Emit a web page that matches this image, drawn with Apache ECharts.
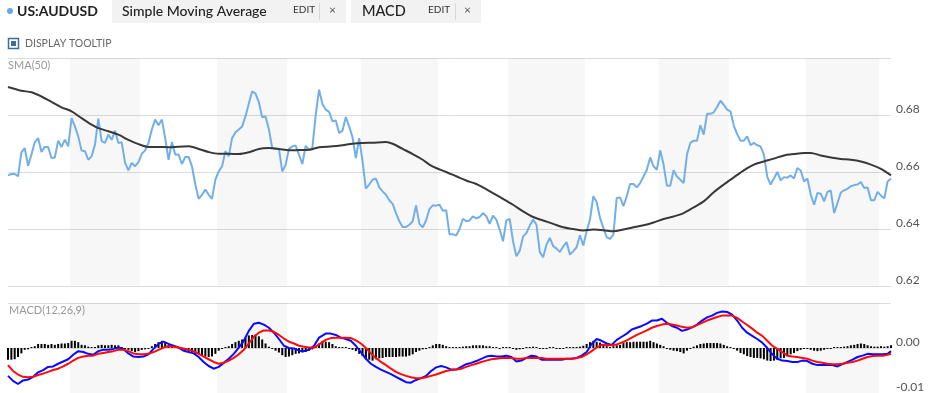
<!DOCTYPE html>
<html><head><meta charset="utf-8">
<script src="https://cdn.jsdelivr.net/npm/echarts@6/dist/echarts.min.js"></script>
<style>html,body{margin:0;padding:0;background:#fff}#c{width:948px;height:393px}</style>
</head><body><div id="c"></div>
<script>
// Daily closes US:AUDUSD (index = trading day)
const price = [
0.6588,0.6593,0.6593,0.6585,0.6669,0.6684,0.6622,0.6661,0.6704,0.6719,
0.6670,0.6688,0.6688,0.6649,0.6651,0.6710,0.6688,0.6713,0.6690,0.6789,
0.6760,0.6725,0.6675,0.6673,0.6643,0.6655,0.6696,0.6787,0.6708,0.6702,
0.6731,0.6713,0.6745,0.6702,0.6704,0.6632,0.6606,0.6632,0.6620,0.6635,
0.6664,0.6676,0.6702,0.6749,0.6784,0.6764,0.6784,0.6719,0.6643,0.6705,
0.6661,0.6661,0.6628,0.6653,0.6653,0.6620,0.6556,0.6506,0.6520,0.6538,
0.6520,0.6506,0.6573,0.6602,0.6620,0.6673,0.6655,0.6719,0.6739,0.6749,
0.6760,0.6795,0.6840,0.6883,0.6875,0.6845,0.6792,0.6795,0.6750,0.6684,
0.6681,0.6681,0.6602,0.6625,0.6681,0.6690,0.6693,0.6660,0.6628,0.6692,
0.6678,0.6685,0.6800,0.6889,0.6839,0.6819,0.6811,0.6778,0.6781,0.6737,
0.6745,0.6793,0.6760,0.6722,0.6649,0.6719,0.6637,0.6542,0.6556,0.6573,
0.6577,0.6546,0.6532,0.6520,0.6501,0.6488,0.6456,0.6427,0.6407,0.6407,
0.6415,0.6427,0.6483,0.6418,0.6406,0.6430,0.6470,0.6483,0.6482,0.6485,
0.6464,0.6466,0.6382,0.6382,0.6377,0.6400,0.6436,0.6427,0.6430,0.6444,
0.6437,0.6442,0.6456,0.6445,0.6418,0.6447,0.6433,0.6398,0.6357,0.6430,
0.6435,0.6357,0.6304,0.6324,0.6374,0.6386,0.6412,0.6433,0.6415,0.6319,
0.6301,0.6346,0.6369,0.6340,0.6331,0.6319,0.6339,0.6354,0.6310,0.6322,
0.6336,0.6378,0.6342,0.6392,0.6433,0.6515,0.6495,0.6439,0.6404,0.6371,
0.6365,0.6380,0.6509,0.6511,0.6480,0.6515,0.6558,0.6558,0.6546,0.6561,
0.6584,0.6608,0.6651,0.6620,0.6608,0.6676,0.6626,0.6552,0.6552,0.6606,
0.6584,0.6573,0.6561,0.6661,0.6702,0.6710,0.6710,0.6764,0.6731,0.6804,
0.6804,0.6809,0.6828,0.6850,0.6836,0.6819,0.6813,0.6763,0.6733,0.6710,
0.6710,0.6725,0.6694,0.6702,0.6694,0.6690,0.6661,0.6584,0.6556,0.6577,
0.6600,0.6571,0.6582,0.6580,0.6588,0.6577,0.6614,0.6605,0.6567,0.6577,
0.6521,0.6485,0.6526,0.6524,0.6497,0.6530,0.6535,0.6456,0.6491,0.6528,
0.6536,0.6541,0.6550,0.6554,0.6556,0.6565,0.6544,0.6546,0.6501,0.6501,
0.6530,0.6517,0.6507,0.6567,0.6577
];
// SMA(50) read at [day index, value]
const sma50 = [
[0,0.6898],[4,0.6885],[7,0.6880],[10,0.6865],[13,0.6846],[16,0.6827],[19,0.6813],[22,0.6789],[25,0.6766],[27,0.6754],
[30,0.6743],[33,0.6731],[36,0.6713],[39,0.6698],[42,0.6688],[45,0.6688],[48,0.6687],[51,0.6689],[54,0.6690],[57,0.6681],
[60,0.6670],[63,0.6664],[66,0.6664],[69,0.6663],[72,0.6669],[75,0.6681],[78,0.6684],[81,0.6681],[84,0.6676],[87,0.6677],
[90,0.6678],[93,0.6687],[97,0.6690],[100,0.6694],[103,0.6699],[106,0.6702],[109,0.6703],[113,0.6705],[115,0.6699],[118,0.6681],
[121,0.6663],[124,0.6643],[126,0.6626],[128,0.6614],[131,0.6600],[134,0.6585],[137,0.6570],[140,0.6558],[142,0.6546],[145,0.6526],
[148,0.6506],[151,0.6485],[154,0.6462],[157,0.6442],[160,0.6430],[163,0.6418],[166,0.6406],[169,0.6400],[172,0.6395],[175,0.6398],
[178,0.6396],[181,0.6392],[184,0.6398],[187,0.6406],[190,0.6413],[193,0.6423],[196,0.6435],[199,0.6444],[202,0.6456],[205,0.6476],
[208,0.6497],[211,0.6529],[214,0.6556],[217,0.6581],[220,0.6606],[223,0.6626],[226,0.6637],[229,0.6647],[232,0.6658],[235,0.6663],
[238,0.6667],[240,0.6667],[243,0.6658],[246,0.6651],[249,0.6646],[252,0.6643],[255,0.6637],[258,0.6626],[261,0.6611],[264,0.6588]
];
// MACD(12,26,9) line read at [day index, value]
const macdLine = [
[0,-0.0062],[1.5,-0.0073],[3,-0.0080],[4.5,-0.0072],[6,-0.0070],[7.5,-0.0064],[9,-0.0054],[10.5,-0.0049],[12,-0.0042],[13.5,-0.0041],
[15,-0.0035],[16.5,-0.0030],[18,-0.0025],[19.5,-0.0015],[21,-0.0007],[22.5,-0.0009],[24,-0.0013],[25.5,-0.0015],[27,-0.0007],[28.5,-0.0004],
[30,-0.0004],[31.5,-0.0002],[33,0.0001],[34.5,-0.0002],[36,-0.0012],[37.5,-0.0019],[39,-0.0020],[40.5,-0.0019],[42,-0.0014],[43.5,-0.0002],
[45,0.0009],[46.5,0.0014],[48,0.0009],[49.5,0.0005],[51,0.0001],[52.5,-0.0006],[54,-0.0009],[55.5,-0.0012],[57,-0.0020],[58.5,-0.0031],
[60,-0.0040],[61.5,-0.0046],[63,-0.0042],[64.5,-0.0033],[66,-0.0024],[67.5,-0.0013],[69,0.0001],[70.5,0.0016],[72,0.0038],[73.5,0.0054],
[75,0.0056],[76.5,0.0052],[78,0.0045],[79.5,0.0034],[81,0.0020],[82.5,0.0005],[84,0.0000],[85.5,-0.0001],[87,-0.0006],[88.5,-0.0007],
[90,-0.0004],[91.5,0.0005],[93,0.0023],[95,0.0032],[96.5,0.0032],[98,0.0029],[99.5,0.0023],[101,0.0020],[102.5,0.0016],[104,0.0005],
[105.5,-0.0009],[107,-0.0024],[108.5,-0.0035],[110,-0.0042],[111.5,-0.0048],[113,-0.0053],[114.5,-0.0058],[116,-0.0064],[117.5,-0.0070],[119,-0.0076],
[120.5,-0.0077],[122,-0.0071],[123.5,-0.0067],[125,-0.0062],[126.5,-0.0051],[128,-0.0043],[129.5,-0.0040],[131,-0.0043],[132.5,-0.0048],[134,-0.0048],
[135.5,-0.0042],[137,-0.0036],[138.5,-0.0033],[140,-0.0029],[141.5,-0.0024],[143,-0.0019],[144.5,-0.0017],[146,-0.0019],[147.5,-0.0019],[149,-0.0017],
[150.5,-0.0020],[152,-0.0030],[153.5,-0.0028],[155,-0.0022],[156.5,-0.0017],[158,-0.0019],[159.5,-0.0026],[161,-0.0026],[162.5,-0.0026],[164,-0.0026],
[165.5,-0.0026],[167,-0.0024],[168.5,-0.0024],[170,-0.0022],[171.5,-0.0017],[173,-0.0009],[174.5,0.0009],[176,0.0020],[177.5,0.0016],[179,0.0010],
[180.5,0.0007],[182,0.0018],[183.5,0.0025],[185,0.0032],[186.5,0.0041],[188,0.0045],[189.5,0.0049],[191,0.0054],[192.5,0.0061],[194,0.0061],
[195.5,0.0065],[197,0.0056],[198.5,0.0049],[200,0.0045],[201.5,0.0038],[203,0.0041],[204.5,0.0046],[206,0.0052],[207.5,0.0061],[209,0.0068],
[210.5,0.0072],[212,0.0078],[213.5,0.0081],[215,0.0080],[216.5,0.0074],[218,0.0061],[219.5,0.0045],[221,0.0034],[222.5,0.0027],[224,0.0020],
[225.5,0.0012],[227,0.0000],[228.5,-0.0014],[230,-0.0024],[231.5,-0.0028],[233,-0.0029],[234.5,-0.0031],[236,-0.0031],[237.5,-0.0028],[239,-0.0029],
[240.5,-0.0035],[242,-0.0038],[243.5,-0.0038],[245,-0.0038],[246.5,-0.0038],[248,-0.0041],[249.5,-0.0036],[251,-0.0031],[252.5,-0.0026],[254,-0.0020],
[255.5,-0.0017],[257,-0.0013],[258.5,-0.0014],[260,-0.0014],[261.5,-0.0014],[263,-0.0013],[264,-0.0007]
];
// Signal line read at [day index, value]
const signalLine = [
[0,-0.0038],[1.5,-0.0051],[3,-0.0059],[4.5,-0.0064],[6,-0.0065],[7.5,-0.0064],[9,-0.0060],[10.5,-0.0057],[12,-0.0053],[13.5,-0.0049],
[15,-0.0046],[16.5,-0.0041],[18,-0.0035],[19.5,-0.0028],[21,-0.0022],[22.5,-0.0019],[24,-0.0017],[25.5,-0.0017],[27,-0.0013],[28.5,-0.0011],
[30,-0.0009],[31.5,-0.0007],[33,-0.0004],[34.5,-0.0004],[36,-0.0007],[37.5,-0.0012],[39,-0.0014],[40.5,-0.0014],[42,-0.0013],[43.5,-0.0009],
[45,-0.0004],[46.5,0.0001],[48,0.0004],[49.5,0.0003],[51,0.0001],[52.5,-0.0001],[54,-0.0004],[55.5,-0.0007],[57,-0.0013],[58.5,-0.0019],
[60,-0.0025],[61.5,-0.0031],[63,-0.0035],[64.5,-0.0033],[66,-0.0028],[67.5,-0.0022],[69,-0.0014],[70.5,-0.0004],[72,0.0010],[73.5,0.0025],
[75,0.0034],[76.5,0.0039],[78,0.0039],[79.5,0.0036],[81,0.0029],[82.5,0.0021],[84,0.0014],[85.5,0.0010],[87,0.0005],[88.5,0.0003],
[90,0.0001],[91.5,0.0001],[93,0.0008],[95,0.0018],[96.5,0.0022],[98,0.0023],[99.5,0.0023],[101,0.0023],[102.5,0.0022],[104,0.0017],
[105.5,0.0010],[107,0.0000],[108.5,-0.0012],[110,-0.0022],[111.5,-0.0031],[113,-0.0038],[114.5,-0.0046],[116,-0.0053],[117.5,-0.0058],[119,-0.0062],
[120.5,-0.0065],[122,-0.0067],[123.5,-0.0067],[125,-0.0065],[126.5,-0.0062],[128,-0.0059],[129.5,-0.0055],[131,-0.0051],[132.5,-0.0049],[134,-0.0048],
[135.5,-0.0046],[137,-0.0042],[138.5,-0.0038],[140,-0.0035],[141.5,-0.0031],[143,-0.0028],[144.5,-0.0025],[146,-0.0024],[147.5,-0.0022],[149,-0.0022],
[150.5,-0.0022],[152,-0.0024],[153.5,-0.0024],[155,-0.0022],[156.5,-0.0022],[158,-0.0022],[159.5,-0.0022],[161,-0.0024],[162.5,-0.0024],[164,-0.0024],
[165.5,-0.0024],[167,-0.0024],[168.5,-0.0024],[170,-0.0022],[171.5,-0.0020],[173,-0.0014],[174.5,-0.0007],[176,0.0001],[177.5,0.0007],[179,0.0006],
[180.5,0.0006],[182,0.0008],[183.5,0.0012],[185,0.0017],[186.5,0.0023],[188,0.0029],[189.5,0.0034],[191,0.0039],[192.5,0.0045],[194,0.0049],
[195.5,0.0052],[197,0.0054],[198.5,0.0052],[200,0.0050],[201.5,0.0047],[203,0.0045],[204.5,0.0046],[206,0.0051],[207.5,0.0056],[209,0.0061],
[210.5,0.0065],[212,0.0069],[213.5,0.0072],[215,0.0072],[216.5,0.0072],[218,0.0067],[219.5,0.0059],[221,0.0051],[222.5,0.0043],[224,0.0034],
[225.5,0.0027],[227,0.0016],[228.5,0.0005],[230,-0.0002],[231.5,-0.0009],[233,-0.0017],[234.5,-0.0019],[236,-0.0020],[237.5,-0.0022],[239,-0.0024],
[240.5,-0.0028],[242,-0.0031],[243.5,-0.0033],[245,-0.0035],[246.5,-0.0036],[248,-0.0036],[249.5,-0.0035],[251,-0.0033],[252.5,-0.0031],[254,-0.0028],
[255.5,-0.0024],[257,-0.0020],[258.5,-0.0018],[260,-0.0017],[261.5,-0.0017],[263,-0.0015],[264,-0.0013]
];
// MACD histogram, one bar per day
const macdHist = [
-0.0026,-0.0026,-0.0025,-0.0020,-0.0012,-0.0004,-0.0003,0.0001,0.0004,0.0009,
0.0009,0.0009,0.0007,0.0009,0.0007,0.0009,0.0010,0.0010,0.0011,0.0016,
0.0016,0.0013,0.0007,0.0006,0.0003,0.0001,0.0001,0.0006,0.0007,0.0006,
0.0006,0.0007,0.0006,0.0006,0.0002,-0.0002,-0.0004,-0.0007,-0.0009,-0.0007,
-0.0004,-0.0003,-0.0001,0.0004,0.0009,0.0013,0.0016,0.0013,0.0007,0.0003,
0.0002,0.0001,-0.0003,-0.0006,-0.0007,-0.0010,-0.0013,-0.0014,-0.0017,-0.0019,
-0.0020,-0.0019,-0.0013,-0.0006,-0.0001,0.0001,0.0004,0.0009,0.0013,0.0016,
0.0019,0.0023,0.0028,0.0029,0.0030,0.0026,0.0019,0.0010,0.0003,-0.0001,
-0.0006,-0.0010,-0.0016,-0.0020,-0.0019,-0.0016,-0.0013,-0.0012,-0.0010,-0.0009,
-0.0006,-0.0003,0.0001,0.0010,0.0016,0.0014,0.0013,0.0009,0.0004,0.0001,
0.0000,0.0000,-0.0001,-0.0004,-0.0007,-0.0013,-0.0018,-0.0023,-0.0026,-0.0028,
-0.0025,-0.0023,-0.0022,-0.0020,-0.0020,-0.0020,-0.0020,-0.0019,-0.0019,-0.0019,
-0.0017,-0.0014,-0.0009,-0.0006,-0.0003,-0.0001,0.0002,0.0006,0.0009,0.0009,
0.0007,0.0004,0.0001,0.0001,0.0000,0.0002,0.0003,0.0004,0.0004,0.0006,
0.0006,0.0006,0.0006,0.0004,0.0004,0.0002,0.0001,-0.0001,0.0000,0.0002,
0.0000,-0.0002,-0.0004,-0.0003,-0.0001,0.0001,0.0002,0.0003,0.0001,-0.0001,
-0.0001,-0.0001,0.0000,0.0001,-0.0001,-0.0001,-0.0001,0.0000,0.0001,0.0001,
0.0002,0.0003,0.0005,0.0009,0.0013,0.0016,0.0014,0.0012,0.0007,0.0004,
0.0002,0.0004,0.0006,0.0007,0.0012,0.0013,0.0013,0.0014,0.0014,0.0014,
0.0014,0.0014,0.0016,0.0013,0.0010,0.0007,0.0004,-0.0002,-0.0004,-0.0006,
-0.0007,-0.0009,-0.0012,-0.0006,-0.0001,0.0003,0.0006,0.0009,0.0010,0.0011,
0.0011,0.0011,0.0011,0.0010,0.0007,0.0004,0.0001,-0.0002,-0.0006,-0.0011,
-0.0014,-0.0018,-0.0020,-0.0022,-0.0022,-0.0023,-0.0025,-0.0028,-0.0029,-0.0028,
-0.0026,-0.0023,-0.0022,-0.0018,-0.0014,-0.0011,-0.0007,-0.0004,-0.0002,-0.0001,
-0.0004,-0.0006,-0.0007,-0.0006,-0.0004,-0.0002,-0.0001,0.0000,0.0001,0.0002,
0.0003,0.0004,0.0006,0.0007,0.0009,0.0010,0.0009,0.0006,0.0004,0.0003,
0.0003,0.0004,0.0003,0.0004,0.0006
];
// Alternate-month shading, in day-index units
const shadedMonths = [[18.5,39.5],[62.5,83.5],[105.5,128.5],[149.5,172.5],[194.5,215.5],[238.5,260.5]];
const priceAxis = {min:0.62, max:0.70, step:0.02};
const macdAxis = {min:-0.01, max:0.01, step:0.01};

const FONT = 'Lato, "Noto Sans", sans-serif';
const chart = echarts.init(document.getElementById('c'), null, {renderer:'canvas'});
const lastIdx = price.length - 1;
const bands = shadedMonths.map(([a,b]) => [{xAxis:a},{xAxis:b}]);
const bandStyle = {color:'rgba(0,0,0,0.032)'};

const graphics = [
  {type:'circle', shape:{cx:10, cy:11, r:3}, style:{fill:'#6ba6e2'}, silent:true},
  {type:'text', x:17, y:11, silent:true, style:{text:'US:AUDUSD', font:`bold 14px ${FONT}`, fill:'#222', verticalAlign:'middle'}},
  {type:'rect', shape:{x:112, y:0, width:234, height:23}, style:{fill:'#f2f2f2'}, silent:true},
  {type:'text', x:122, y:11, silent:true, style:{text:'Simple Moving Average', font:`500 14px ${FONT}`, fill:'#222', verticalAlign:'middle'}},
  {type:'text', x:293, y:10, silent:true, style:{text:'EDIT', font:`10px ${FONT}`, fill:'#333', verticalAlign:'middle'}},
  {type:'line', shape:{x1:319.5, y1:3, x2:319.5, y2:20}, style:{stroke:'#d8d8d8', lineWidth:1}, silent:true},
  {type:'text', x:329, y:10, silent:true, style:{text:'×', font:`12px ${FONT}`, fill:'#555', verticalAlign:'middle'}},
  {type:'rect', shape:{x:351, y:0, width:130, height:23}, style:{fill:'#f2f2f2'}, silent:true},
  {type:'text', x:362, y:11, silent:true, style:{text:'MACD', font:`500 14.5px ${FONT}`, fill:'#222', verticalAlign:'middle'}},
  {type:'text', x:428, y:10, silent:true, style:{text:'EDIT', font:`10px ${FONT}`, fill:'#333', verticalAlign:'middle'}},
  {type:'line', shape:{x1:455.5, y1:3, x2:455.5, y2:20}, style:{stroke:'#d8d8d8', lineWidth:1}, silent:true},
  {type:'text', x:464, y:10, silent:true, style:{text:'×', font:`12px ${FONT}`, fill:'#555', verticalAlign:'middle'}},
  {type:'rect', shape:{x:8.5, y:38.5, width:10, height:10}, style:{fill:'#fff', stroke:'#3d6e99', lineWidth:1.5}, silent:true},
  {type:'rect', shape:{x:11, y:41, width:5, height:5}, style:{fill:'#3d6e99'}, silent:true},
  {type:'text', x:25, y:44, silent:true, style:{text:'DISPLAY TOOLTIP', font:`10.5px ${FONT}`, fill:'#666', verticalAlign:'middle'}},
  {type:'text', x:8, y:65, silent:true, style:{text:'SMA(50)', font:`11px ${FONT}`, fill:'#999', verticalAlign:'middle'}},
  {type:'text', x:9, y:310, silent:true, style:{text:'MACD(12,26,9)', font:`11px ${FONT}`, fill:'#999', verticalAlign:'middle'}}
];

const xBase = {type:'value', min:0, max:lastIdx, show:false};
const yLabel = {fontFamily:FONT, fontSize:12, color:'#555', verticalAlign:'bottom', margin:5, showMaxLabel:false};

chart.setOption({
  animation:false,
  textStyle:{fontFamily:FONT},
  grid:[
    {left:8, right:57, top:58, height:228},
    {left:8, right:57, top:303, height:92}
  ],
  xAxis:[
    Object.assign({gridIndex:0}, xBase),
    Object.assign({gridIndex:1}, xBase)
  ],
  yAxis:[
    {gridIndex:0, type:'value', position:'right', min:priceAxis.min, max:priceAxis.max, interval:priceAxis.step,
     axisLine:{show:false}, axisTick:{show:false},
     splitLine:{show:true, lineStyle:{color:'#dcdcdc', width:1}},
     axisLabel:Object.assign({formatter:v=>v.toFixed(2)}, yLabel)},
    {gridIndex:1, type:'value', position:'right', min:macdAxis.min, max:macdAxis.max, interval:macdAxis.step,
     axisLine:{show:false}, axisTick:{show:false},
     splitLine:{show:true, lineStyle:{color:'#dcdcdc', width:1}},
     axisLabel:Object.assign({formatter:v=>v.toFixed(2)}, yLabel)}
  ],
  graphic:graphics,
  series:[
    {name:'US:AUDUSD', type:'line', xAxisIndex:0, yAxisIndex:0, showSymbol:false, silent:true,
     data:price.map((v,i)=>[i,v]), lineStyle:{color:'#72afe8', width:2},
     markArea:{silent:true, itemStyle:bandStyle, data:bands}},
    {name:'SMA(50)', type:'line', xAxisIndex:0, yAxisIndex:0, showSymbol:false, silent:true, smooth:0.3,
     data:sma50, lineStyle:{color:'#383838', width:2}},
    {name:'Histogram', type:'bar', xAxisIndex:1, yAxisIndex:1, silent:true, barWidth:2, barMinHeight:1,
     data:macdHist.map((v,i)=>[i,v]), itemStyle:{color:'#000'},
     markArea:{silent:true, itemStyle:bandStyle, data:bands}},
    {name:'MACD', type:'line', xAxisIndex:1, yAxisIndex:1, showSymbol:false, silent:true,
     data:macdLine, lineStyle:{color:'#0a0aff', width:2}},
    {name:'Signal', type:'line', xAxisIndex:1, yAxisIndex:1, showSymbol:false, silent:true,
     data:signalLine, lineStyle:{color:'#ff0a0a', width:2}}
  ]
});
</script></body></html>
